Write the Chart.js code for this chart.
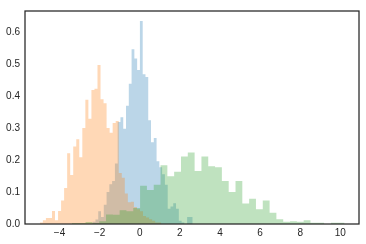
<!DOCTYPE html>
<html>
<head>
<meta charset="utf-8">
<script src="https://cdn.jsdelivr.net/npm/chart.js@4/dist/chart.umd.min.js"></script>
<style>
  html, body { margin: 0; padding: 0; background: #fff; }
  #wrap { width: 366px; height: 244px; }
</style>
</head>
<body>
<div id="wrap"><canvas id="myChart" width="366" height="244"></canvas></div>
<script>
// histogram ranges (first and last bin edge), 40 bins each
const blueRange = [-2.9, 2.64];
const orangeRange = [-4.98, 1.07];
const greenRange = [-3.38, 10.21];

// density per bin
const blueHeights = [0.012, 0, 0, 0, 0, 0.007, 0.014, 0.04, 0.022, 0.06,
  0.1, 0.125, 0.135, 0.19, 0.32, 0.335, 0.299, 0.371, 0.44, 0.548,
  0.519, 0.483, 0.637, 0.47, 0.461, 0.325, 0.256, 0.27, 0.197, 0.178,
  0.156, 0.123, 0.048, 0.055, 0.065, 0.048, 0.01, 0.005, 0, 0.022];
const orangeHeights = [0.005, 0.005, 0.012, 0.019, 0.019, 0.041, 0.012, 0.041, 0.074, 0.113,
  0.222, 0.154, 0.243, 0.266, 0.209, 0.301, 0.39, 0.33, 0.42, 0.424,
  0.499, 0.391, 0.379, 0.301, 0.286, 0.317, 0.323, 0.16, 0.145, 0.096,
  0.068, 0.07, 0.053, 0.046, 0.04, 0.025, 0.02, 0.015, 0.01, 0.005];
const greenHeights = [0.003, 0.003, 0.003, 0.006, 0.003, 0.009, 0.03, 0.029, 0.043, 0.04,
  0.05, 0.12, 0.107, 0.123, 0.184, 0.15, 0.164, 0.212, 0.224, 0.166,
  0.212, 0.181, 0.178, 0.135, 0.1, 0.135, 0.064, 0.079, 0.046, 0.074,
  0.035, 0.015, 0.007, 0.009, 0.007, 0.012, 0.004, 0.004, 0, 0.004];

const xTicks = [-4, -2, 0, 2, 4, 6, 8, 10];
const yTicks = [0, 0.1, 0.2, 0.3, 0.4, 0.5, 0.6];

// turn bins into step points
function steps(range, heights) {
  const n = heights.length;
  const w = (range[1] - range[0]) / n;
  const pts = heights.map((h, i) => ({ x: range[0] + i * w, y: h }));
  pts.push({ x: range[1], y: heights[n - 1] });
  return pts;
}

function hist(range, heights, color, order) {
  return {
    data: steps(range, heights),
    stepped: 'after',
    fill: 'origin',
    backgroundColor: color,
    borderWidth: 0,
    pointRadius: 0,
    order: order
  };
}

const frame = {
  id: 'frame',
  afterDraw(chart) {
    const a = chart.chartArea;
    const c = chart.ctx;
    c.save();
    c.strokeStyle = '#262626';
    c.lineWidth = 1.25;
    c.strokeRect(a.left, a.top, a.right - a.left, a.bottom - a.top);
    c.restore();
  }
};

const tickFont = { family: '"Liberation Sans", Arial, sans-serif', size: 10 };
const minus = v => (v < 0 ? '\u2212' + Math.abs(v) : String(v));

const ctx = document.getElementById('myChart');
new Chart(ctx, {
  type: 'line',
  data: {
    datasets: [
      hist(blueRange, blueHeights, 'rgba(31,119,180,0.3)', 3),
      hist(orangeRange, orangeHeights, 'rgba(255,127,14,0.3)', 2),
      hist(greenRange, greenHeights, 'rgba(44,160,44,0.3)', 1)
    ]
  },
  options: {
    responsive: false,
    animation: false,
    devicePixelRatio: 1,
    layout: { padding: { left: 0, right: 7, top: 7, bottom: 0 } },
    plugins: { legend: { display: false }, tooltip: { enabled: false } },
    scales: {
      x: {
        type: 'linear',
        min: -5.72,
        max: 10.93,
        grid: { display: false, drawTicks: false },
        border: { display: false },
        afterBuildTicks: s => { s.ticks = xTicks.map(v => ({ value: v })); },
        afterFit: s => { s.height = 20; },
        ticks: { font: tickFont, color: '#262626', padding: 3, maxRotation: 0, callback: v => minus(v) }
      },
      y: {
        min: 0,
        max: 0.668,
        grid: { display: false, drawTicks: false },
        border: { display: false },
        afterBuildTicks: s => { s.ticks = yTicks.map(v => ({ value: v })); },
        afterFit: s => { s.width = 25; },
        ticks: { font: tickFont, color: '#262626', padding: 5, callback: v => v.toFixed(1) }
      }
    }
  },
  plugins: [frame]
});
</script>
</body>
</html>
